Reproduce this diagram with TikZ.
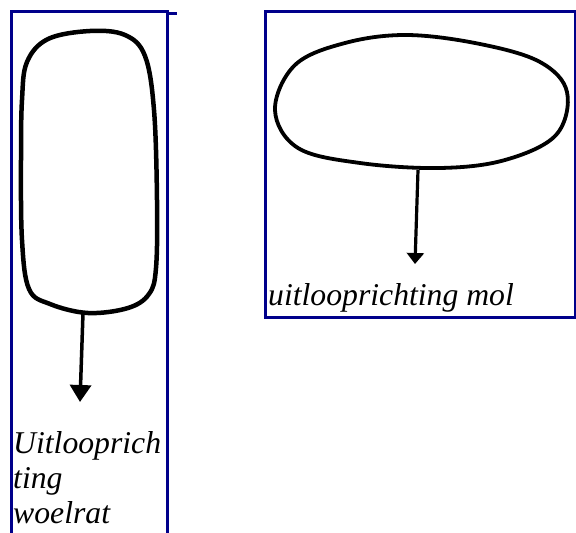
\documentclass[tikz,border=0pt]{standalone}
\usepackage{fontspec}
\setmainfont{Liberation Serif}
\usetikzlibrary{arrows.meta}
\definecolor{framenavy}{RGB}{0,0,139}
\tikzset{
  frameline/.style={draw=framenavy, line width=3pt},
  blob/.style={draw=black, line width=4.5pt, line join=round},
  arrowline/.style={draw=black, line width=3.5pt, -{Triangle[width=21pt,length=17pt]}},
  label/.style={anchor=base west, inner sep=0pt, font=\fontsize{31.7}{35}\selectfont\itshape}
}
\begin{document}
\begin{tikzpicture}[x=1pt,y=-1pt]
\useasboundingbox (0,0) rectangle (576,533);
% left frame
\draw[frameline] (11,533) -- (11,11) -- (167,11) -- (167,533);
\draw[frameline] (167,13.5) -- (177,13.5);
% right frame
\draw[frameline] (265,11) rectangle (575,317);
% left blob
\draw[blob] plot[smooth cycle, tension=0.6] coordinates {
 (22,100) (27,62) (48,39) (90,31) (125,35) (145,56) (154,110) (157,200)
 (156,268) (149,294) (128,308) (88,313) (50,304) (29,289) (22,240) (21,160)};
% right ellipse
\draw[blob, line width=3.8pt] plot[smooth cycle, tension=0.6] coordinates {
 (275,110) (295,65) (345,43) (407,35) (480,44) (540,62) (567,92) (556,135)
 (505,160) (440,168) (360,163) (298,148)};
% arrows
\coordinate (lstart) at (83,313);
\coordinate (lend) at (80,402);
\draw[arrowline] (lstart) -- (lend);
\coordinate (rstart) at (418,170);
\coordinate (rend) at (415,264);
\draw[arrowline, line width=3.2pt, -{Triangle[width=17pt,length=11pt]}] (rstart) -- (rend);
% labels
\node[label] (lw1) at (13,453) {Uitlooprich};
\node[label] (lw2) at (13,488) {ting};
\node[label] (lw3) at (13,523) {woelrat};
\node[label] (rm) at (268,305) {uitlooprichting mol};
\end{tikzpicture}
\end{document}
